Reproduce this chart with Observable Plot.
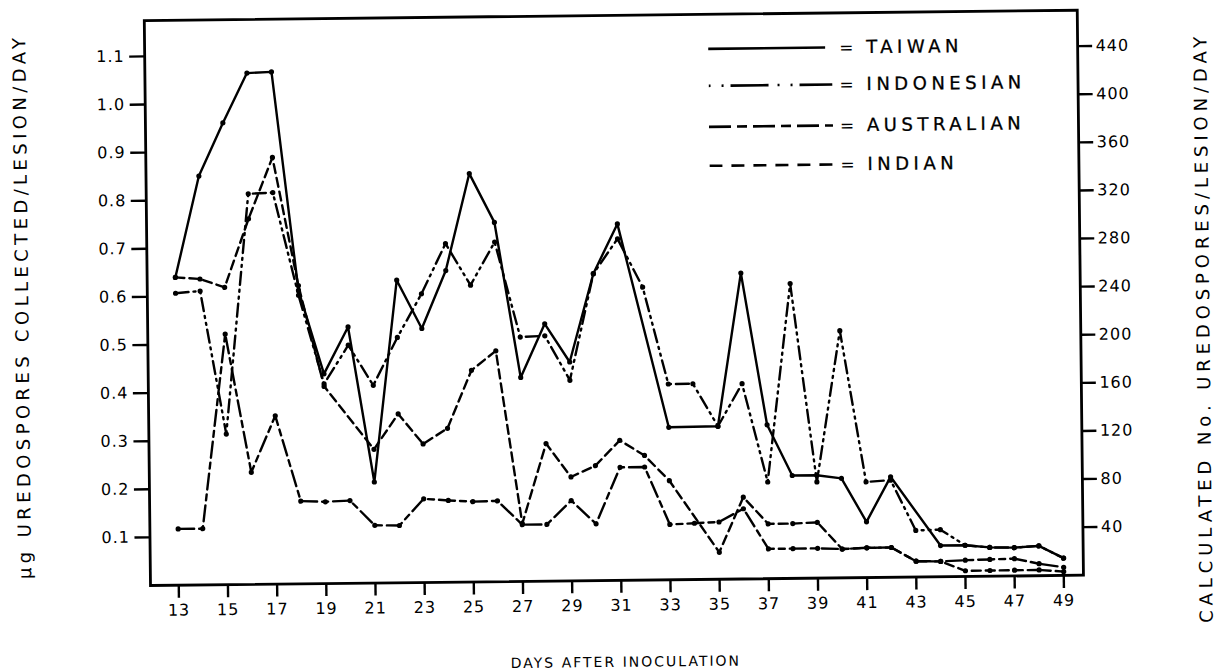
<!DOCTYPE html>
<html>
<head>
<meta charset="utf-8">
<script src="https://cdn.jsdelivr.net/npm/d3@7"></script>
<script src="https://cdn.jsdelivr.net/npm/@observablehq/plot@0.6"></script>
<style>
  html, body { margin: 0; padding: 0; background: #fff; overflow: hidden; }
  #wrap { position: relative; width: 1218px; height: 690px; transform: rotate(-0.63deg); transform-origin: 150px 585px; background: #fff; }
  #wrap svg text { letter-spacing: 1px; }
  .lg-row { position: absolute; left: 0; height: 24px; width: 1218px; font-family: 'DejaVu Sans', sans-serif; color: #000; }
  .lg-row svg { position: absolute; left: 714px; top: 0; }
  .lg-eq { position: absolute; left: 845px; top: 0; line-height: 24px; font-size: 17px; }
  .lg-txt { position: absolute; left: 872px; top: 0; line-height: 24px; font-size: 18px; letter-spacing: 4.5px; -webkit-text-stroke: 0.3px #000; }
</style>
</head>
<body>
<div id="wrap"></div>
<script>
// ---- data ----
const days = [13,14,15,16,17,18,19,20,21,22,23,24,25,26,27,28,29,30,31,32,33,34,35,36,37,38,39,40,41,42,43,44,45,46,47,48,49];
const taiwan = [0.64,0.85,0.96,1.063,1.065,0.61,0.436,0.533,0.21,0.629,0.528,0.648,0.849,0.747,0.424,0.535,0.455,0.638,0.741,null,0.317,null,0.318,0.636,0.32,0.214,0.214,0.207,0.116,0.209,null,0.065,0.065,0.06,0.059,0.062,0.036];
const indonesian = [0.607,0.611,0.313,0.812,0.814,0.60,0.415,0.495,0.411,0.51,0.60,0.704,0.617,0.706,0.508,0.51,0.417,0.638,0.71,0.609,0.407,0.407,0.318,0.406,0.201,0.613,0.2,0.514,0.199,0.202,0.097,0.098,0.065,0.06,0.059,0.062,0.036];
const australian = [0.117,0.117,0.521,0.233,0.35,0.172,0.17,0.172,0.12,0.119,0.174,0.17,0.167,0.168,0.118,0.118,0.167,0.118,0.235,0.235,0.115,0.117,0.119,0.146,0.062,0.062,0.062,0.06,0.062,0.062,0.033,0.032,0.034,0.035,0.036,0.025,0.017];
const indian = [0.64,0.636,0.618,0.76,0.887,0.62,0.41,null,0.278,0.351,0.288,0.32,0.44,0.48,0.12,0.286,0.216,0.239,0.291,0.259,0.206,null,0.056,0.17,0.114,0.114,0.116,0.06,0.062,0.062,0.033,0.032,0.012,0.012,0.012,0.012,0.008];

const seriesNames = ["TAIWAN", "INDONESIAN", "AUSTRALIAN", "INDIAN"];
const leftTicks = [0.1,0.2,0.3,0.4,0.5,0.6,0.7,0.8,0.9,1.0,1.1];
const rightTicks = [40,80,120,160,200,240,280,320,360,400,440];
const bottomTicks = [13,15,17,19,21,23,25,27,29,31,33,35,37,39,41,43,45,47,49];
const sporesPerMicrogram = 400; // right axis = left axis x 400
const yTitleLeft = "µg UREDOSPORES COLLECTED/LESION/DAY";
const yTitleRight = "CALCULATED No. UREDOSPORES/LESION/DAY";
const xTitle = "DAYS AFTER INOCULATION";

// ---- styles ----
const lineDash = { TAIWAN: null, INDONESIAN: "13,5,2,5,2,5", AUSTRALIAN: "16,5,6,5", INDIAN: "9,5" };
const legendDash = { TAIWAN: null, INDONESIAN: "2,11,2,7,38,9", AUSTRALIAN: "22,6,10,6", INDIAN: "13,9" };

const valuesBySeries = { TAIWAN: taiwan, INDONESIAN: indonesian, AUSTRALIAN: australian, INDIAN: indian };
const rows = seriesNames.flatMap(s =>
  days.map((d, i) => ({ series: s, day: d, value: valuesBySeries[s][i] })).filter(r => r.value != null)
);

const lineMarks = seriesNames.map(s =>
  Plot.line(rows.filter(r => r.series === s), {
    x: "day", y: "value", stroke: "black", strokeWidth: 2.4,
    strokeDasharray: lineDash[s] || undefined, strokeLinejoin: "round"
  })
);

const chart = Plot.plot({
  width: 1218,
  height: 690,
  marginLeft: 150,
  marginRight: 135,
  marginTop: 20,
  marginBottom: 105,
  x: { domain: [11.85, 49.8], axis: null },
  y: { domain: [0, 1.1746], axis: null },
  style: { fontFamily: "'DejaVu Sans', sans-serif", fontSize: "16px", background: "#fff", color: "#000", overflow: "visible" },
  marks: [
    ...lineMarks,
    Plot.dot(rows, { x: "day", y: "value", r: 2.6, fill: "black", stroke: "none" }),
    Plot.frame({ stroke: "black", strokeWidth: 2.8 }),
    Plot.axisY(leftTicks, { anchor: "left", tickSize: 15, tickPadding: 5, strokeWidth: 2.4, fontSize: 16, tickFormat: d3.format(".1f"), label: null }),
    Plot.axisY(rightTicks.map(v => v / sporesPerMicrogram), { anchor: "right", tickSize: 14, tickPadding: 4, strokeWidth: 2.4, fontSize: 16, tickFormat: d => String(Math.round(d * sporesPerMicrogram)), label: null }),
    Plot.axisX(bottomTicks, { anchor: "bottom", tickSize: 13, tickPadding: 6, strokeWidth: 2.4, fontSize: 16, tickFormat: d => String(d), label: null }),
    Plot.text([yTitleLeft], { text: d => d, frameAnchor: "left", dx: -125, dy: 2, rotate: -90, fontSize: 18, textAnchor: "middle", lineAnchor: "middle", fill: "black" }),
    Plot.text([yTitleRight], { text: d => d, frameAnchor: "right", dx: 123, dy: 36, rotate: -90, fontSize: 18, textAnchor: "middle", lineAnchor: "middle", fill: "black" }),
    Plot.text([xTitle], { text: d => d, frameAnchor: "bottom", dx: 8, dy: 82, fontSize: 14, textAnchor: "middle", lineAnchor: "middle", fill: "black" })
  ]
});

const wrap = document.getElementById("wrap");
wrap.appendChild(chart);

// letter spacing for the axis titles
d3.select(chart).selectAll("text").each(function () {
  const t = this.textContent;
  if (t === yTitleLeft) this.style.letterSpacing = "4.4px";
  else if (t === yTitleRight) this.style.letterSpacing = "4.9px";
  else if (t === xTitle) this.style.letterSpacing = "2px";
});

// ---- legend (inside the frame, top right) ----
const legendCenters = [54.5, 92, 133, 172];
seriesNames.forEach((s, i) => {
  const row = document.createElement("div");
  row.className = "lg-row";
  row.style.top = (legendCenters[i] - 12) + "px";
  const svg = d3.create("svg").attr("width", 124).attr("height", 24);
  svg.append("line")
    .attr("x1", 0).attr("x2", s === "TAIWAN" ? 117 : 124)
    .attr("y1", 12).attr("y2", 12)
    .attr("stroke", "black").attr("stroke-width", 2.6)
    .attr("stroke-dasharray", legendDash[s]);
  row.appendChild(svg.node());
  const eq = document.createElement("span");
  eq.className = "lg-eq"; eq.textContent = "=";
  row.appendChild(eq);
  const txt = document.createElement("span");
  txt.className = "lg-txt"; txt.textContent = s;
  row.appendChild(txt);
  wrap.appendChild(row);
});
</script>
</body>
</html>
